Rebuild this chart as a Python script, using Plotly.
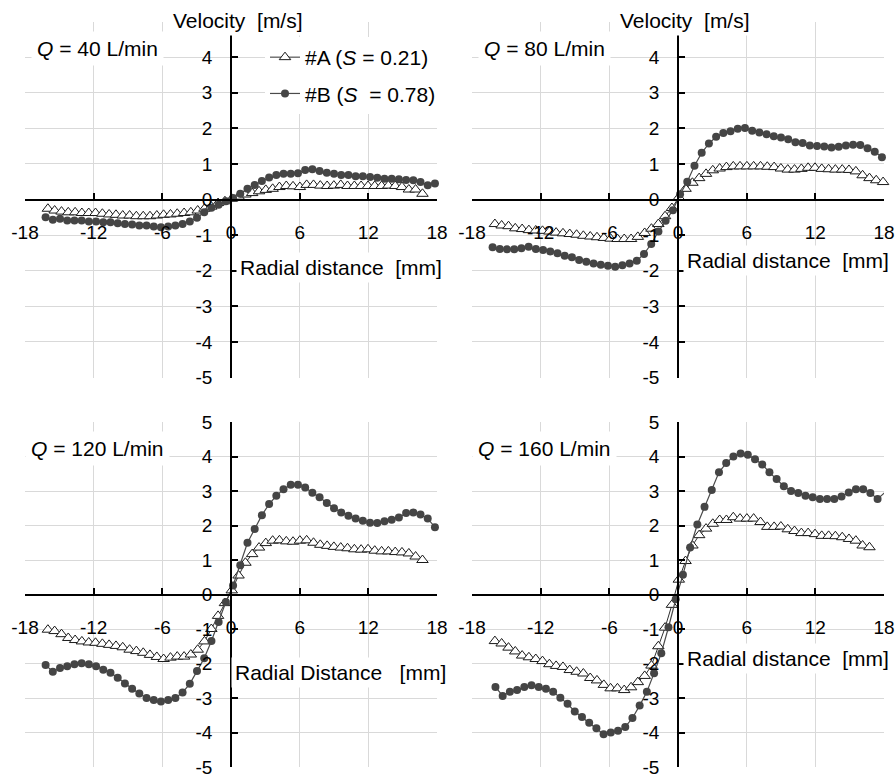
import plotly.graph_objects as go

# ---- axes ----
x_ticks = [-18, -12, -6, 0, 6, 12, 18]
y_ticks = [-5, -4, -3, -2, -1, 0, 1, 2, 3, 4, 5]

# ---- radial positions [mm] ----
r_a = [-16.0, -15.41, -14.81, -14.22, -13.62, -13.03, -12.43, -11.84, -11.24, -10.65,
       -10.05, -9.46, -8.86, -8.27, -7.67, -7.08, -6.48, -5.89, -5.29, -4.70,
       -4.10, -3.51, -2.91, -2.32, -1.72, -1.13, -0.53, 0.07, 0.66, 1.26,
       1.85, 2.45, 3.04, 3.64, 4.23, 4.83, 5.42, 6.02, 6.61, 7.21,
       7.80, 8.40, 8.99, 9.59, 10.18, 10.78, 11.37, 11.97, 12.56, 13.16,
       13.75, 14.35, 14.94, 15.54, 16.13, 16.73, 17.32, 17.92]

r_b = [-16.2, -15.57, -14.94, -14.31, -13.68, -13.05, -12.42, -11.79, -11.16, -10.53,
       -9.9, -9.27, -8.64, -8.01, -7.38, -6.75, -6.12, -5.49, -4.86, -4.23,
       -3.6, -2.97, -2.34, -1.71, -1.08, -0.45, 0.18, 0.81, 1.44, 2.07,
       2.7, 3.33, 3.96, 4.59, 5.22, 5.85, 6.48, 7.11, 7.74, 8.37,
       9.0, 9.63, 10.26, 10.89, 11.52, 12.15, 12.78, 13.41, 14.04, 14.67,
       15.3, 15.93, 16.56, 17.19, 17.82]

r_b_160 = [-15.95, -15.32, -14.69, -14.06, -13.43, -12.8, -12.17, -11.54, -10.91, -10.28,
           -9.65, -9.02, -8.39, -7.76, -7.13, -6.5, -5.87, -5.24, -4.61, -3.98,
           -3.35, -2.72, -2.09, -1.46, -0.83, -0.2, 0.43, 1.06, 1.69, 2.32,
           2.95, 3.58, 4.21, 4.84, 5.47, 6.1, 6.73, 7.36, 7.99, 8.62,
           9.25, 9.88, 10.51, 11.14, 11.77, 12.4, 13.03, 13.66, 14.29, 14.92,
           15.55, 16.18, 16.81, 17.44, 18.3]

# ---- velocity [m/s] ----
v_a_40 = [-0.26, -0.31, -0.34, -0.36, -0.36, -0.38, -0.38, -0.38, -0.40, -0.42,
          -0.43, -0.45, -0.45, -0.47, -0.47, -0.47, -0.45, -0.43, -0.42, -0.40,
          -0.38, -0.36, -0.31, -0.26, -0.20, -0.10, -0.05, 0.02, 0.08, 0.14,
          0.18, 0.23, 0.27, 0.30, 0.35, 0.38, 0.37, 0.35, 0.41, 0.41,
          0.39, 0.38, 0.39, 0.41, 0.38, 0.38, 0.38, 0.38, 0.38, 0.38,
          0.39, 0.38, 0.35, 0.28, 0.28, 0.16]
v_b_40 = [-0.50, -0.57, -0.54, -0.59, -0.59, -0.59, -0.62, -0.62, -0.64, -0.64,
          -0.67, -0.69, -0.70, -0.73, -0.73, -0.76, -0.78, -0.76, -0.73, -0.69,
          -0.62, -0.51, -0.36, -0.23, -0.15, -0.05, 0.04, 0.16, 0.30, 0.41,
          0.52, 0.62, 0.69, 0.72, 0.72, 0.74, 0.83, 0.85, 0.80, 0.75,
          0.72, 0.69, 0.69, 0.65, 0.65, 0.63, 0.61, 0.58, 0.58, 0.57,
          0.55, 0.54, 0.49, 0.40, 0.45]

v_a_80 = [-0.69, -0.73, -0.75, -0.81, -0.83, -0.86, -0.87, -0.88, -0.90, -0.93,
          -0.95, -0.97, -0.99, -1.02, -1.04, -1.06, -1.08, -1.10, -1.11, -1.11,
          -1.11, -1.05, -0.94, -0.82, -0.69, -0.47, -0.24, 0.06, 0.30, 0.47,
          0.60, 0.72, 0.82, 0.87, 0.91, 0.93, 0.93, 0.93, 0.93, 0.93,
          0.92, 0.91, 0.87, 0.84, 0.84, 0.86, 0.89, 0.89, 0.86, 0.85,
          0.84, 0.84, 0.83, 0.79, 0.68, 0.60, 0.54, 0.49]
v_b_80 = [-1.34, -1.39, -1.40, -1.40, -1.37, -1.33, -1.39, -1.42, -1.46, -1.51,
          -1.58, -1.62, -1.70, -1.75, -1.80, -1.83, -1.86, -1.89, -1.85, -1.80,
          -1.72, -1.53, -1.25, -0.90, -0.60, -0.30, 0.15, 0.50, 0.95, 1.31,
          1.57, 1.76, 1.87, 1.92, 1.99, 2.01, 1.93, 1.88, 1.83, 1.78,
          1.74, 1.69, 1.61, 1.59, 1.52, 1.50, 1.49, 1.46, 1.48, 1.52,
          1.54, 1.53, 1.44, 1.34, 1.19]

v_a_120 = [-1.02, -1.06, -1.15, -1.26, -1.32, -1.36, -1.39, -1.40, -1.43, -1.46,
           -1.49, -1.53, -1.60, -1.64, -1.69, -1.75, -1.81, -1.87, -1.83, -1.80,
           -1.80, -1.74, -1.60, -1.36, -1.00, -0.62, -0.25, 0.12, 0.55, 0.92,
           1.17, 1.36, 1.49, 1.56, 1.57, 1.54, 1.53, 1.56, 1.57, 1.50,
           1.44, 1.41, 1.38, 1.36, 1.34, 1.31, 1.30, 1.31, 1.27, 1.25,
           1.25, 1.23, 1.22, 1.19, 1.10, 1.00]
v_b_120 = [-2.04, -2.24, -2.13, -2.08, -2.02, -1.99, -2.02, -2.08, -2.18, -2.27,
           -2.41, -2.58, -2.73, -2.87, -3.00, -3.06, -3.10, -3.06, -3.00, -2.84,
           -2.59, -2.22, -1.85, -1.35, -0.80, -0.22, 0.26, 0.85, 1.50, 1.90,
           2.30, 2.62, 2.86, 3.05, 3.18, 3.18, 3.10, 2.95, 2.82, 2.65,
           2.50, 2.38, 2.28, 2.20, 2.14, 2.08, 2.07, 2.12, 2.17, 2.23,
           2.36, 2.38, 2.32, 2.20, 1.95]

v_a_160 = [-1.35, -1.42, -1.54, -1.65, -1.77, -1.82, -1.87, -1.93, -2.02, -2.07,
           -2.10, -2.19, -2.24, -2.29, -2.42, -2.49, -2.62, -2.72, -2.72, -2.77,
           -2.69, -2.54, -2.36, -2.06, -1.50, -0.96, -0.30, 0.43, 0.97, 1.42,
           1.72, 1.91, 2.05, 2.16, 2.16, 2.24, 2.20, 2.20, 2.20, 2.10,
           1.96, 1.96, 1.97, 1.89, 1.84, 1.78, 1.78, 1.75, 1.70, 1.70,
           1.69, 1.66, 1.61, 1.56, 1.42, 1.37]
v_b_160 = [-2.68, -2.94, -2.82, -2.77, -2.68, -2.63, -2.68, -2.73, -2.82, -2.99,
           -3.17, -3.39, -3.55, -3.72, -3.88, -4.05, -4.00, -3.95, -3.84, -3.58,
           -3.22, -2.82, -2.28, -1.70, -0.95, -0.14, 0.57, 1.36, 2.03, 2.54,
           3.03, 3.54, 3.81, 4.00, 4.09, 4.05, 3.92, 3.77, 3.54, 3.35,
           3.14, 3.00, 2.94, 2.86, 2.82, 2.77, 2.77, 2.77, 2.84, 2.96,
           3.05, 3.05, 2.94, 2.77, 3.02]

flow_labels = ["40", "80", "120", "160"]
radial_titles = ["Radial distance\u00a0 [mm]", "Radial distance\u00a0 [mm]",
                 "Radial Distance\u00a0\u00a0 [mm]", "Radial distance\u00a0 [mm]"]
name_a = "#A (<i>S</i> = 0.21)"
name_b = "#B (<i>S</i>\u00a0 = 0.78)"

FONT = "Liberation Sans, Arial, sans-serif"
W, H = 895, 778
TICK_SIZE = 19
TEXT_SIZE = 21

# panel frames in pixels: (left, right, top(+5), bottom(-5))
frames = [(25, 437, 21.5, 377.5), (472, 884, 21.5, 377.5),
          (25, 437, 422, 767), (472, 884, 422, 767)]

series = [(r_a, v_a_40, r_b, v_b_40),
          (r_a, v_a_80, r_b, v_b_80),
          (r_a, v_a_120, r_b, v_b_120),
          (r_a, v_a_160, r_b_160, v_b_160)]

fig = go.Figure()
layout = {}
annotations = []

for k, ((l, r, t, b), (xa, ya, xb, yb)) in enumerate(zip(frames, series)):
    sfx = "" if k == 0 else str(k + 1)
    top_row = k < 2
    xd = [l / W, r / W]
    yd = [(H - b) / H, (H - t) / H]
    xzero = (xd[0] + xd[1]) / 2
    yzero = (yd[0] + yd[1]) / 2
    common = dict(
        tickmode="array", ticks="inside", ticklen=6, tickwidth=1.5, tickcolor="black",
        showline=True, linecolor="black", linewidth=1.5,
        showgrid=True, gridcolor="#d9d9d9", gridwidth=1, zeroline=False,
        tickfont=dict(family=FONT, size=TICK_SIZE, color="black"),
        automargin=False, ticklabeloverflow="allow", fixedrange=True)
    # the top panels carry the axis title where the "5" label would sit
    y_text = [("" if (top_row and v == 5) else str(v)) for v in y_ticks]
    layout["xaxis" + sfx] = dict(
        domain=xd, range=[-18, 18], anchor="free", position=yzero,
        tickvals=x_ticks, ticktext=[str(v) for v in x_ticks],
        ticklabelstandoff=16, **common)
    layout["yaxis" + sfx] = dict(
        domain=yd, range=[-5, 5], anchor="free", position=xzero,
        tickvals=y_ticks, ticktext=y_text,
        ticklabelstandoff=14, **common)

    xr, yr = "x" + sfx, "y" + sfx
    fig.add_trace(go.Scatter(
        x=xa[:len(ya)], y=ya, xaxis=xr, yaxis=yr, mode="lines+markers",
        name=name_a, legendgroup="a", showlegend=(k == 0),
        line=dict(color="#303030", width=1),
        marker=dict(symbol="triangle-up", size=10, color="white",
                    line=dict(color="#1a1a1a", width=1)),
        cliponaxis=False))
    fig.add_trace(go.Scatter(
        x=xb[:len(yb)], y=yb, xaxis=xr, yaxis=yr, mode="lines+markers",
        name=name_b, legendgroup="b", showlegend=(k == 0),
        line=dict(color="#4a4a4a", width=1.2),
        marker=dict(symbol="circle", size=8, color="#454545"),
        cliponaxis=(k == 3)))

    tf = dict(family=FONT, size=TEXT_SIZE, color="black")
    annotations.append(dict(
        x=-11.7, y=4.23, xref=xr, yref=yr, showarrow=False,
        xanchor="center", yanchor="middle",
        text="<i>Q</i> = " + flow_labels[k] + " L/min", font=tf,
        bgcolor="white", borderpad=5))
    annotations.append(dict(
        x=9.6, y=-1.9 if k == 0 else -1.72 if k == 1 else -2.25 if k == 2 else -1.85,
        xref=xr, yref=yr, showarrow=False, xanchor="center", yanchor="middle",
        text=radial_titles[k], font=tf, bgcolor="white", borderpad=3))
    if top_row:
        annotations.append(dict(
            x=0.6, y=1.004, xref=xr, yref=yr + " domain", showarrow=False,
            xanchor="center", yanchor="middle",
            text="Velocity\u00a0 [m/s]", font=tf, bgcolor="white", borderpad=3))

fig.update_layout(
    width=W, height=H, margin=dict(l=0, r=0, t=0, b=0, autoexpand=False),
    paper_bgcolor="white", plot_bgcolor="white",
    font=dict(family=FONT, size=TICK_SIZE, color="black"),
    annotations=annotations,
    legend=dict(x=265 / W, y=(H - 37) / H, xanchor="left", yanchor="top",
                bgcolor="white", font=dict(family=FONT, size=TEXT_SIZE, color="black"),
                traceorder="grouped", tracegroupgap=6, itemwidth=30),
    **layout)

fig.write_html("out.html")
